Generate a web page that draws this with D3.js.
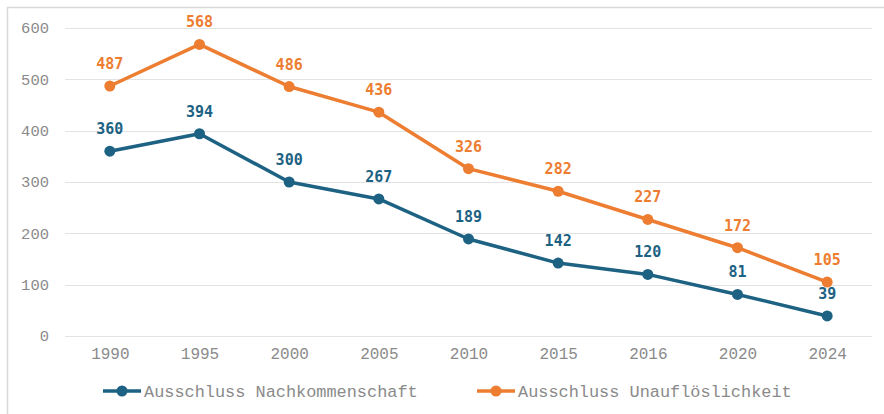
<!DOCTYPE html>
<html lang="de">
  <head>
    <meta charset="UTF-8" />
    <title>Ausschluss</title>
    <style>
      body { margin: 0; background: #fff; }
      svg { display: block; }
    </style>
  </head>
  <body>
    <div class="chart"></div>
    <script src="https://d3js.org/d3.v7.min.js"></script>
    <script>
      // Daten =================================================================
      const years = ["1990", "1995", "2000", "2005", "2010", "2015", "2016", "2020", "2024"];
      const nachkommenschaft = [360, 394, 300, 267, 189, 142, 120, 81, 39];
      const unaufloeslichkeit = [487, 568, 486, 436, 326, 282, 227, 172, 105];
      const yTicks = [0, 100, 200, 300, 400, 500, 600];
      const seriesNames = ["Ausschluss Nachkommenschaft", "Ausschluss Unauflöslichkeit"];
      const colors = ["#1d6283", "#ed7d31"];

      const width = 884, height = 414;
      const margin = { top: 28, right: 12, bottom: 78, left: 65 };
      const monoFont = "Liberation Mono, Courier New, monospace";

      const svg = d3.select(".chart").append("svg")
        .attr("width", width)
        .attr("height", height);

      // Rahmen
      svg.append("rect")
        .attr("x", 7.5).attr("y", 7.5)
        .attr("width", 900).attr("height", 420)
        .attr("fill", "none")
        .attr("stroke", "#d9d9d9")
        .attr("stroke-width", 1.5);

      const x = d3.scalePoint()
        .domain(years)
        .range([margin.left, width - margin.right])
        .padding(0.5);

      const y = d3.scaleLinear()
        .domain([0, 600])
        .range([height - margin.bottom, margin.top]);

      // Gitterlinien
      svg.append("g")
        .selectAll("line")
        .data(yTicks)
        .enter()
        .append("line")
        .attr("x1", margin.left)
        .attr("x2", width - margin.right)
        .attr("y1", (d) => Math.round(y(d)) + 0.5)
        .attr("y2", (d) => Math.round(y(d)) + 0.5)
        .attr("stroke", "#e3e3e3")
        .attr("stroke-width", 1);

      // Y-Achse
      const yAxis = svg.append("g")
        .attr("transform", `translate(${margin.left - 16},0)`)
        .call(d3.axisLeft(y).tickValues(yTicks).tickSize(0).tickPadding(0));
      yAxis.select(".domain").remove();
      yAxis.selectAll("text")
        .attr("font-family", monoFont)
        .attr("font-size", 15.5)
        .attr("fill", "#8a8a8a");

      // X-Achse
      const xAxis = svg.append("g")
        .attr("transform", `translate(0,${height - margin.bottom})`)
        .call(d3.axisBottom(x).tickSize(0).tickPadding(12));
      xAxis.select(".domain").remove();
      xAxis.selectAll("text")
        .attr("font-family", monoFont)
        .attr("font-size", 16)
        .attr("fill", "#8a8a8a");

      // Linien =================================================================
      const series = [nachkommenschaft, unaufloeslichkeit];
      const line = d3.line()
        .x((d, i) => x(years[i]))
        .y((d) => y(d));

      series.forEach((values, s) => {
        const g = svg.append("g");
        g.append("path")
          .datum(values)
          .attr("d", line)
          .attr("fill", "none")
          .attr("stroke", colors[s])
          .attr("stroke-width", 3.5)
          .attr("stroke-linejoin", "round");

        g.selectAll("circle")
          .data(values)
          .enter()
          .append("circle")
          .attr("cx", (d, i) => x(years[i]))
          .attr("cy", (d) => y(d))
          .attr("r", 5.5)
          .attr("fill", colors[s]);

        g.selectAll("text")
          .data(values)
          .enter()
          .append("text")
          .attr("x", (d, i) => x(years[i]))
          .attr("y", (d) => y(d) - 17)
          .attr("text-anchor", "middle")
          .attr("font-family", "DejaVu Sans Mono, monospace")
          .attr("font-weight", "bold")
          .attr("font-size", 15)
          .attr("fill", colors[s])
          .text((d) => d);
      });

      // Legende =================================================================
      const legendX = [103, 477];
      const legend = svg.append("g").attr("transform", "translate(0,391)");
      seriesNames.forEach((name, s) => {
        const lg = legend.append("g").attr("transform", `translate(${legendX[s]},0)`);
        lg.append("line")
          .attr("x1", 0).attr("x2", 38)
          .attr("y1", 0).attr("y2", 0)
          .attr("stroke", colors[s])
          .attr("stroke-width", 3.5);
        lg.append("circle")
          .attr("cx", 19).attr("cy", 0).attr("r", 5.5)
          .attr("fill", colors[s]);
        lg.append("text")
          .attr("x", 41).attr("y", 5.5)
          .attr("font-family", monoFont)
          .attr("font-size", 16.9)
          .attr("fill", "#8a8a8a")
          .text(name);
      });
    </script>
  </body>
</html>
